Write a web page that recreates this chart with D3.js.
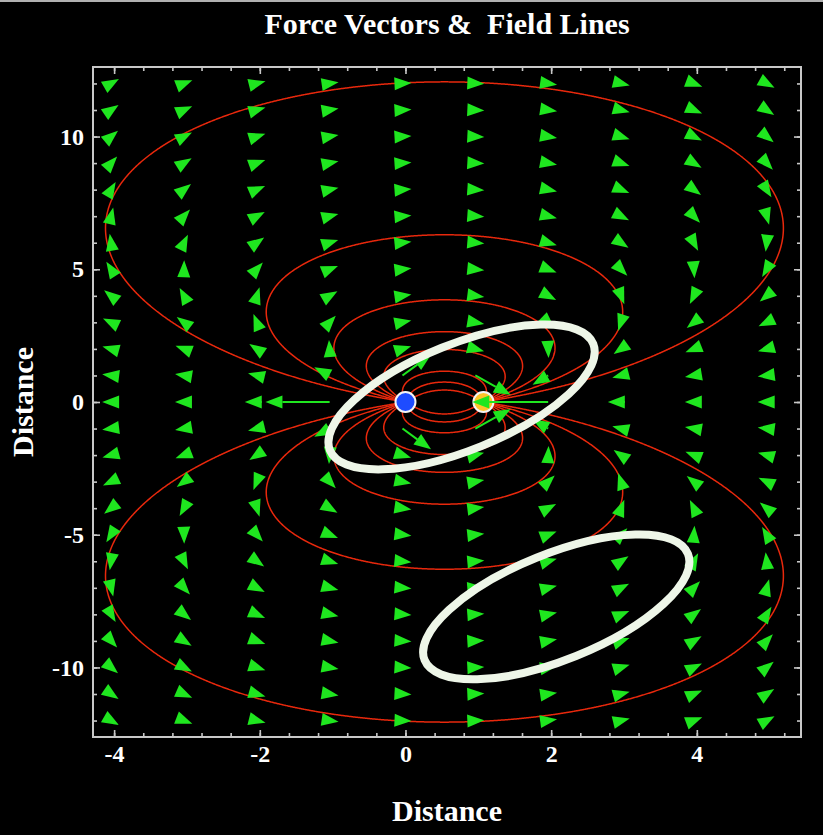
<!DOCTYPE html>
<html><head><meta charset="utf-8">
<script src="https://cdn.jsdelivr.net/npm/d3@7"></script>
<style>html,body{margin:0;padding:0;background:#000;}svg{display:block;}</style>
</head><body>
<script>
// ---------- data ----------
const chartTitle = "Force Vectors &  Field Lines";
const xLabel = "Distance";
const yLabel = "Distance";
const chargeX = [0, 1.07];          // blue (+), orange (-)
const chargeY = [0, 0];
const chargeQ = [1, -1];
const gridX = [-4, -3, -2, -1, 0, 1, 2, 3, 4, 5];
const gridY = [-12, -11, -10, -9, -8, -7, -6, -5, -4, -3, -2, -1, 0, 1, 2, 3, 4, 5, 6, 7, 8, 9, 10, 11, 12];
// heights (at the mid-point between the charges) of the field-line loops
const loopHeights = [12.06, 6.3, 3.85, 2.65, 1.98, 1.16, 0.75, 0.45];
const xMajorTicks = [-4, -2, 0, 2, 4];
const xMinorTicks = [-4, -3.6, -3.2, -2.8, -2.4, -2, -1.6, -1.2, -0.8, -0.4, 0, 0.4, 0.8, 1.2, 1.6, 2, 2.4, 2.8, 3.2, 3.6, 4, 4.4, 4.8, 5.2];
const yMajorTicks = [-10, -5, 0, 5, 10];
const yMinorTicks = [-12, -11, -10, -9, -8, -7, -6, -5, -4, -3, -2, -1, 0, 1, 2, 3, 4, 5, 6, 7, 8, 9, 10, 11, 12];
const xDomain = [-4.29, 5.43];
const yDomain = [-12.62, 12.62];
// highlight ovals drawn over the picture (centres in data units)
const ovalX = [0.77, 2.07];
const ovalY = [0.19, -7.72];

// ---------- layout ----------
const W = 823, H = 835;
const L = 93, R = 801, T = 67, B = 737;
const vecScale = 1.15;
const GREEN = "#1fe61f", RED = "#e8280c", FRAME = "#c8c8c8";
const chargeColors = ["#1e4cff", "#ffc42a"];

const svg = d3.select("body").append("svg").attr("width", W).attr("height", H)
  .style("background", "#000");
svg.append("rect").attr("x", 0).attr("y", 0).attr("width", W).attr("height", 2).attr("fill", "#b0b0b0");

const x = d3.scaleLinear().domain(xDomain).range([L, R]);
const y = d3.scaleLinear().domain(yDomain).range([B, T]);
const ax = x(1) - x(0), ay = y(0) - y(1);

svg.append("defs").append("clipPath").attr("id", "clip")
  .append("rect").attr("x", L).attr("y", T).attr("width", R - L).attr("height", B - T);

function field(px, py) {
  let ex = 0, ey = 0;
  for (let i = 0; i < chargeX.length; i++) {
    const dx = px - chargeX[i], dy = py - chargeY[i];
    const r2 = dx * dx + dy * dy, r3 = r2 * Math.sqrt(r2);
    ex += chargeQ[i] * dx / r3; ey += chargeQ[i] * dy / r3;
  }
  return [ex, ey];
}
function dirS(X, Y, sgn) {
  const e = field(x.invert(X), y.invert(Y));
  const sx = e[0] * ax, sy = -e[1] * ay;
  const n = Math.hypot(sx, sy) || 1;
  return [sgn * sx / n, sgn * sy / n];
}
function trace(X0, Y0, sgn) {
  const pts = [[X0, Y0]];
  let X = X0, Y = Y0; const h = 0.8;
  for (let k = 0; k < 8000; k++) {
    const k1 = dirS(X, Y, sgn);
    const k2 = dirS(X + h / 2 * k1[0], Y + h / 2 * k1[1], sgn);
    const k3 = dirS(X + h / 2 * k2[0], Y + h / 2 * k2[1], sgn);
    const k4 = dirS(X + h * k3[0], Y + h * k3[1], sgn);
    X += h / 6 * (k1[0] + 2 * k2[0] + 2 * k3[0] + k4[0]);
    Y += h / 6 * (k1[1] + 2 * k2[1] + 2 * k3[1] + k4[1]);
    pts.push([X, Y]);
    let done = false;
    for (let i = 0; i < chargeX.length; i++) {
      const cx = x(chargeX[i]), cy = y(chargeY[i]);
      if (Math.hypot(X - cx, Y - cy) < 1.2) { pts.push([cx, cy]); done = true; }
    }
    if (done) break;
    if (X < -200 || X > W + 200 || Y < -400 || Y > H + 400) break;
  }
  return pts;
}

// ---------- field lines ----------
const gLines = svg.append("g").attr("clip-path", "url(#clip)");
const xm = (chargeX[0] + chargeX[1]) / 2;
const lineGen = d3.line();
loopHeights.forEach(hgt => {
  [1, -1].forEach(s => {
    const X0 = x(xm), Y0 = y(s * hgt);
    const back = trace(X0, Y0, -1).reverse();
    const fwd = trace(X0, Y0, 1);
    const pts = back.concat(fwd.slice(1));
    gLines.append("path").attr("d", lineGen(pts))
      .attr("fill", "none").attr("stroke", RED).attr("stroke-width", 1.5);
  });
});

// ---------- charges ----------
chargeX.forEach((cxv, i) => {
  svg.append("circle").attr("cx", x(cxv)).attr("cy", y(chargeY[i])).attr("r", 10)
    .attr("fill", chargeColors[i]).attr("stroke", "#f4f4f4").attr("stroke-width", 2);
});

// ---------- vector field ----------
const gArr = svg.append("g").attr("clip-path", "url(#clip)");
gridX.forEach(gx => gridY.forEach(gy => {
  let near = false;
  for (let i = 0; i < chargeX.length; i++) if (Math.hypot(gx - chargeX[i], gy - chargeY[i]) < 0.2) near = true;
  if (near) return;
  const e = field(gx, gy);
  const vx = e[0] * vecScale * ax, vy = -e[1] * vecScale * ay;
  const len = Math.hypot(vx, vy);
  const dx = vx / len, dy = vy / len;
  const X0 = x(gx) - 3, Y0 = y(gy);
  const tl = Math.max(len, 9);
  const tipX = X0 + dx * tl, tipY = Y0 + dy * tl;
  const hl = 17, hw = 6.5;
  const bX = tipX - dx * hl, bY = tipY - dy * hl;
  const px = -dy, py = dx;
  if (len > 9) {
    gArr.append("line").attr("x1", X0).attr("y1", Y0).attr("x2", bX).attr("y2", bY)
      .attr("stroke", GREEN).attr("stroke-width", 2);
  }
  gArr.append("path")
    .attr("d", `M${tipX},${tipY}L${bX + px * hw},${bY + py * hw}L${bX - px * hw},${bY - py * hw}Z`)
    .attr("fill", GREEN);
}));

// ---------- frame & axes ----------
svg.append("rect").attr("x", L).attr("y", T).attr("width", R - L).attr("height", B - T)
  .attr("fill", "none").attr("stroke", FRAME).attr("stroke-width", 2);

const tickFont = "'Liberation Serif', 'DejaVu Serif', serif";
const fmt = d => String(d);
function styleAxis(g) {
  g.select(".domain").remove();
  g.selectAll(".tick line").attr("stroke", FRAME).attr("stroke-width", 1.6);
  g.selectAll(".tick text").attr("fill", "#fff").style("font-family", tickFont)
    .style("font-size", "24px").style("font-weight", "bold");
}
svg.append("g").attr("transform", `translate(0,${B})`)
  .call(d3.axisBottom(x).tickValues(xMinorTicks).tickSize(-4).tickFormat("")).call(styleAxis);
svg.append("g").attr("transform", `translate(0,${B})`)
  .call(d3.axisBottom(x).tickValues(xMajorTicks).tickSize(-7).tickPadding(8).tickFormat(fmt)).call(styleAxis);
svg.append("g").attr("transform", `translate(0,${T})`)
  .call(d3.axisTop(x).tickValues(xMinorTicks).tickSize(-4).tickFormat("")).call(styleAxis);
svg.append("g").attr("transform", `translate(0,${T})`)
  .call(d3.axisTop(x).tickValues(xMajorTicks).tickSize(-7).tickFormat("")).call(styleAxis);
svg.append("g").attr("transform", `translate(${L},0)`)
  .call(d3.axisLeft(y).tickValues(yMinorTicks).tickSize(-4).tickFormat("")).call(styleAxis);
svg.append("g").attr("transform", `translate(${L},0)`)
  .call(d3.axisLeft(y).tickValues(yMajorTicks).tickSize(-7).tickPadding(9).tickFormat(fmt)).call(styleAxis);
svg.append("g").attr("transform", `translate(${R},0)`)
  .call(d3.axisRight(y).tickValues(yMinorTicks).tickSize(-4).tickFormat("")).call(styleAxis);
svg.append("g").attr("transform", `translate(${R},0)`)
  .call(d3.axisRight(y).tickValues(yMajorTicks).tickSize(-7).tickFormat("")).call(styleAxis);

// ---------- highlight ovals ----------
ovalX.forEach((ox, i) => {
  svg.append("ellipse").attr("cx", 0).attr("cy", 0).attr("rx", 142).attr("ry", 53)
    .attr("transform", `translate(${x(ox)},${y(ovalY[i])}) rotate(-22)`)
    .attr("fill", "none").attr("stroke", "#eef6e8").attr("stroke-width", 8);
});

// ---------- titles ----------
svg.append("text").attr("x", (L + R) / 2).attr("y", 34).attr("text-anchor", "middle")
  .attr("fill", "#fff").style("font-family", tickFont).style("font-size", "30px")
  .style("font-weight", "bold").style("white-space", "pre").text(chartTitle);
svg.append("text").attr("x", (L + R) / 2).attr("y", 821).attr("text-anchor", "middle")
  .attr("fill", "#fff").style("font-family", tickFont).style("font-size", "30px")
  .style("font-weight", "bold").text(xLabel);
svg.append("text").attr("transform", `translate(33,${(T + B) / 2}) rotate(-90)`).attr("text-anchor", "middle")
  .attr("fill", "#fff").style("font-family", tickFont).style("font-size", "30px")
  .style("font-weight", "bold").text(yLabel);
</script>
</body></html>
